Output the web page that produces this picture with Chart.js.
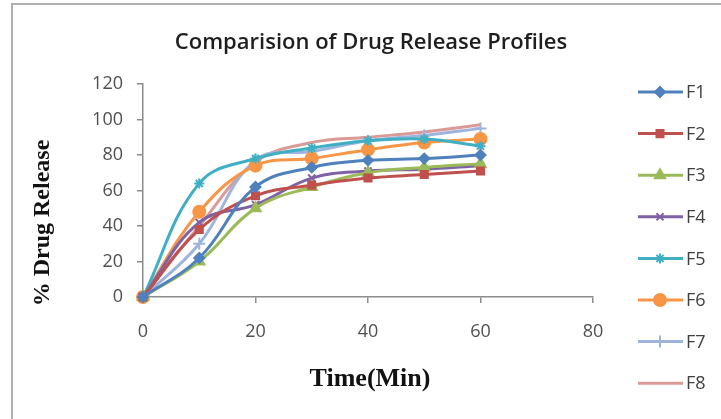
<!DOCTYPE html>
<html>
<head>
<meta charset="utf-8">
<script src="https://cdn.jsdelivr.net/npm/chart.js@4/dist/chart.umd.min.js"></script>
<style>
    html, body { margin: 0; padding: 0; background: #fff; }
    #wrap { width: 721px; height: 419px; }
</style>
</head>
<body>
<div id="wrap"><canvas id="releaseChart" width="721" height="419"></canvas></div>
<script>
// ====================================
// DATA
// ====================================
const timeMin = [0, 10, 20, 30, 40, 50, 60];
const seriesNames = ['F1', 'F2', 'F3', 'F4', 'F5', 'F6', 'F7', 'F8'];

const f1 = [0, 22, 62, 73, 77, 78, 80];
const f2 = [0, 38, 57, 63, 67, 69, 71];
const f3 = [0, 20, 50, 62, 70, 73, 75];
const f4 = [0, 42, 52, 67, 71, 72, 74];
const f5 = [0, 64, 78, 84, 88, 89, 85];
const f6 = [0, 48, 74, 78, 83, 87, 89];
const f7 = [0, 30, 77, 82, 88, 91, 95];
const f8 = [0, 40, 76, 87, 90, 93, 97];

const xTicks = [0, 20, 40, 60, 80];
const yTicks = [0, 20, 40, 60, 80, 100, 120];

// ====================================
// STYLES
// ====================================
const seriesValues = [f1, f2, f3, f4, f5, f6, f7, f8];
const seriesColors = ['#4F81BD', '#C0504D', '#9BBB59', '#7F62A6', '#3FAFC4', '#F79646', '#9FB4DD', '#DA9A98'];
const seriesMarkers = ['rectRot', 'rect', 'triangle', 'crossRot', 'star', 'circle', 'cross', false];
const markerRadius = [5, 5, 6, 5, 5, 6, 6, 0];

const datasets = seriesNames.map((name, i) => ({
    label: name,
    data: timeMin.map((t, j) => ({ x: t, y: seriesValues[i][j] })),
    borderColor: seriesColors[i],
    backgroundColor: seriesColors[i],
    borderWidth: 3,
    pointStyle: seriesMarkers[i],
    pointRadius: markerRadius[i],
    pointBorderWidth: 2,
    tension: 0.4,
    clip: false
}));

// Frame, titles and legend drawn by hand so they sit where Excel put them
const decorations = {
    id: 'decorations',
    beforeDraw(chart) {
        const ctx = chart.ctx;
        ctx.save();
        ctx.fillStyle = '#fff';
        ctx.fillRect(0, 0, chart.width, chart.height);
        ctx.strokeStyle = '#b0b0b0';
        ctx.lineWidth = 2;
        ctx.strokeRect(12, 4, 800, 600);
        ctx.restore();
    },
    afterDraw(chart) {
        const ctx = chart.ctx;
        ctx.save();

        // main title
        ctx.fillStyle = '#1e1e1e';
        ctx.textAlign = 'center';
        ctx.textBaseline = 'middle';
        ctx.font = '600 22px "Open Sans"';
        ctx.fillText('Comparision of Drug Release Profiles', 371, 43);

        // axis titles
        ctx.fillStyle = '#111';
        ctx.font = 'bold 26px "Liberation Serif"';
        ctx.fillText('Time(Min)', 370, 379);

        ctx.save();
        ctx.translate(43, 223);
        ctx.rotate(-Math.PI / 2);
        ctx.font = 'bold 24px "Liberation Serif"';
        ctx.fillText('% Drug Release', 0, 0);
        ctx.restore();

        // legend: line with marker, then name
        const legendTop = 92;
        const legendStep = 41.6;
        chart.data.datasets.forEach((ds, i) => {
            const y = legendTop + i * legendStep;
            ctx.strokeStyle = ds.borderColor;
            ctx.fillStyle = ds.backgroundColor;
            ctx.lineWidth = 3;
            ctx.beginPath();
            ctx.moveTo(638, y);
            ctx.lineTo(683, y);
            ctx.stroke();
            if (ds.pointStyle) {
                ctx.lineWidth = 2;
                Chart.helpers.drawPoint(ctx, {
                    pointStyle: ds.pointStyle,
                    radius: ds.pointRadius,
                    borderWidth: 2,
                    rotation: 0
                }, 660, y);
            }
            ctx.fillStyle = '#404040';
            ctx.textAlign = 'left';
            ctx.font = '18px "Open Sans"';
            ctx.fillText(ds.label, 686, y + 1);
        });

        ctx.restore();
    }
};

new Chart(document.getElementById('releaseChart'), {
    type: 'line',
    data: { datasets: datasets },
    plugins: [decorations],
    options: {
        responsive: false,
        animation: false,
        layout: {
            padding: { top: 84, right: 128, bottom: 62, left: 0 }
        },
        plugins: {
            legend: { display: false },
            title: { display: false },
            tooltip: { enabled: false }
        },
        scales: {
            x: {
                type: 'linear',
                min: 0,
                max: 80,
                afterFit: scale => { scale.height = 60; },
                afterBuildTicks: scale => { scale.ticks = xTicks.map(v => ({ value: v })); },
                grid: {
                    drawOnChartArea: false,
                    tickLength: 6,
                    color: '#8c8c8c',
                    lineWidth: 1.5
                },
                border: { color: '#8c8c8c', width: 1.5 },
                ticks: {
                    padding: 18,
                    color: '#505050',
                    font: { family: 'Open Sans', size: 18 }
                }
            },
            y: {
                min: 0,
                max: 120,
                afterFit: scale => { scale.width = 143; },
                afterBuildTicks: scale => { scale.ticks = yTicks.map(v => ({ value: v })); },
                grid: {
                    drawOnChartArea: false,
                    tickLength: 6,
                    color: '#8c8c8c',
                    lineWidth: 1.5
                },
                border: { color: '#8c8c8c', width: 1.5 },
                ticks: {
                    padding: 14,
                    color: '#505050',
                    font: { family: 'Open Sans', size: 18 }
                }
            }
        }
    }
});
</script>
</body>
</html>
